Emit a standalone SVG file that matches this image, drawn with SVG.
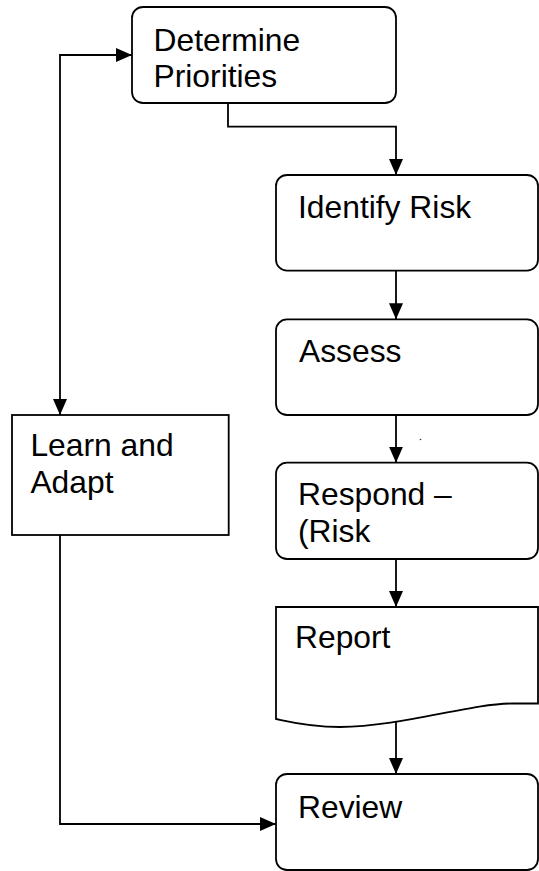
<svg xmlns="http://www.w3.org/2000/svg" width="539" height="871" viewBox="0 0 539 871">
<style>
.box{fill:#fff;stroke:#000;stroke-width:1.8}
.t{font-family:"Liberation Sans",Arial,sans-serif;font-size:31.8px;fill:#000}
.c{fill:none;stroke:#000;stroke-width:1.8}
</style>
<defs>
<marker id="ah" viewBox="0 0 16 14" markerWidth="16" markerHeight="14" refX="16" refY="7" orient="auto-start-reverse" markerUnits="userSpaceOnUse">
<path d="M0,0 L16,7 L0,14 z" fill="#000"/>
</marker>
</defs>
<g id="connectors">
<path class="c" d="M228,103 V126.7 H396 V175" marker-end="url(#ah)"/>
<path class="c" d="M396,270.7 V319.3" marker-end="url(#ah)"/>
<path class="c" d="M396,415 V462.7" marker-end="url(#ah)"/>
<path class="c" d="M396,559 V607" marker-end="url(#ah)"/>
<path class="c" d="M396,722 V774" marker-end="url(#ah)"/>
<path class="c" d="M60,415 V55 H132" marker-start="url(#ah)" marker-end="url(#ah)"/>
<path class="c" d="M60,535 V824 H276" marker-end="url(#ah)"/>
</g>
<g id="determine">
<rect class="box" x="132" y="7" width="264" height="96" rx="11"/>
<text class="t" x="153.5" y="50.7">Determine</text>
<text class="t" x="153.5" y="87">Priorities</text>
</g>
<g id="identify">
<rect class="box" x="276" y="175" width="262" height="95.7" rx="11"/>
<text class="t" x="298" y="218.3">Identify Risk</text>
</g>
<g id="assess">
<rect class="box" x="276" y="319.3" width="262" height="95.7" rx="11"/>
<text class="t" x="299" y="361.7">Assess</text>
</g>
<g id="respond">
<rect class="box" x="276" y="462.7" width="262" height="96.3" rx="11"/>
<text class="t" x="298" y="505">Respond –</text>
<text class="t" x="298" y="541.7">(Risk</text>
</g>
<g id="report">
<path class="box" d="M276,607 H538 V703.5 H512 C470,703.5 400,727 340,727 C310,727 290,722 276,719 Z"/>
<text class="t" x="295" y="648.3">Report</text>
</g>
<g id="review">
<rect class="box" x="276" y="774" width="262" height="96" rx="11"/>
<text class="t" x="298" y="818.3">Review</text>
</g>
<g id="learn">
<rect class="box" x="12" y="415" width="216.7" height="120"/>
<text class="t" x="30.4" y="456">Learn and</text>
<text class="t" x="30.4" y="492.7">Adapt</text>
</g>
<circle cx="420.5" cy="439.5" r="0.8" fill="#333"/>
</svg>
